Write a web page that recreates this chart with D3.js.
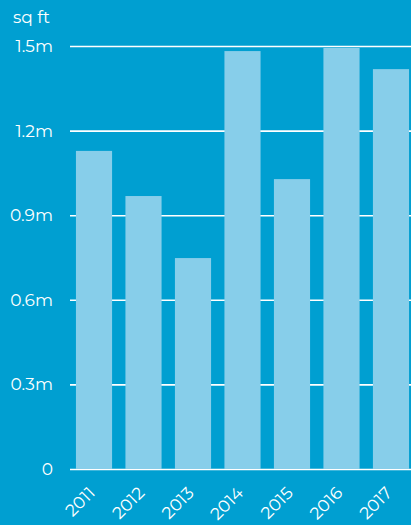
<!DOCTYPE html>
<html>
<head>
<meta charset="utf-8">
<script src="https://cdn.jsdelivr.net/npm/d3@7"></script>
<style>
  body { margin: 0; background: #009fd1; }
  svg { display: block; }
  text { font-family: "Montserrat", "Lato", "Open Sans", sans-serif; fill: #ffffff; }
  .ticklabel { font-size: 17px; }
  .xlabel { font-size: 17px; }
</style>
</head>
<body>
<svg id="chart" width="411" height="525"></svg>
<script>
const years = ["2011", "2012", "2013", "2014", "2015", "2016", "2017"];
const sqft = [1.128, 0.968, 0.748, 1.482, 1.028, 1.493, 1.418];
const yTicks = [0, 0.3, 0.6, 0.9, 1.2, 1.5];
const yTickLabels = ["0", "0.3m", "0.6m", "0.9m", "1.2m", "1.5m"];

const svg = d3.select("#chart");
svg.append("rect").attr("width", 411).attr("height", 525).attr("fill", "#009fd1");

let xScale = d3.scaleBand().domain(years).range([70, 415])
    .paddingInner(0.27).paddingOuter(0.12);
let yScale = d3.scaleLinear().domain([0, 1.5]).range([469, 46]);

// gridlines behind the bars
let grid = svg.append("g").attr("class", "grid")
    .attr("transform", "translate(70,0)")
    .call(d3.axisLeft(yScale).tickValues(yTicks).tickSize(-345).tickFormat(""));
grid.select(".domain").remove();
grid.selectAll("line").attr("stroke", "#ffffff").attr("stroke-width", 1.6);

svg.append("g").selectAll("rect").data(years).join("rect")
    .attr("x", d => xScale(d))
    .attr("y", (d, i) => yScale(sqft[i]))
    .attr("width", xScale.bandwidth())
    .attr("height", (d, i) => yScale(0) - yScale(sqft[i]))
    .attr("fill", "#87ceea");

// y tick labels
svg.append("g").selectAll("text").data(yTicks).join("text")
    .attr("class", "ticklabel")
    .attr("x", 53)
    .attr("y", d => yScale(d) + 6)
    .attr("text-anchor", "end")
    .text((d, i) => yTickLabels[i]);

svg.append("text").attr("class", "ticklabel").attr("x", 13).attr("y", 23).text("sq ft");

// x labels, rotated
svg.append("g").selectAll("text").data(years).join("text")
    .attr("class", "xlabel")
    .attr("text-anchor", "end")
    .attr("transform", d => "translate(" + (xScale(d) + xScale.bandwidth() / 2 + 2) + ",494) rotate(-45)")
    .text(d => d);
</script>
</body>
</html>
